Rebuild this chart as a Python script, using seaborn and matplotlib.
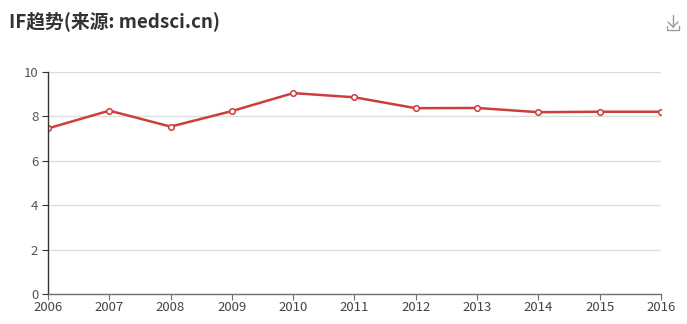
import matplotlib
matplotlib.use("Agg")
import matplotlib.pyplot as plt
from matplotlib.lines import Line2D
import pandas as pd
import seaborn as sns

# IF values
years = [2006, 2007, 2008, 2009, 2010, 2011, 2012, 2013, 2014, 2015, 2016]
impact_factor = [7.46, 8.26, 7.54, 8.24, 9.05, 8.86, 8.37, 8.38, 8.19, 8.21, 8.21]
y_ticks = [0, 2, 4, 6, 8, 10]

df = pd.DataFrame({"year": years, "IF": impact_factor})

sns.set_style("white")
plt.rcParams["font.family"] = ["Noto Sans CJK SC", "DejaVu Sans"]

fig = plt.figure(figsize=(6.87, 3.24), dpi=100)
ax = fig.add_axes([48 / 687, 30 / 324, 613 / 687, 222 / 324])

sns.lineplot(
    data=df, x="year", y="IF", ax=ax,
    color="#cc3e3a", linewidth=1.8,
    marker="o", markersize=4, markerfacecolor="white",
    markeredgecolor="#cc3e3a", markeredgewidth=1.1,
)

ax.set_xlim(years[0], years[-1])
ax.set_ylim(0, 10)
ax.set_xticks(years)
ax.set_yticks(y_ticks)
ax.set_xlabel("")
ax.set_ylabel("")
ax.grid(axis="y", color="#dddddd", linewidth=1)
ax.set_axisbelow(True)

for s in ["top", "right"]:
    ax.spines[s].set_visible(False)
ax.spines["left"].set_color("#333333")
ax.spines["bottom"].set_color("#6e7079")
ax.spines["left"].set_linewidth(1)
ax.spines["bottom"].set_linewidth(1)
ax.tick_params(axis="y", length=4, color="#333333", labelcolor="#555555",
               labelsize=9.5, pad=3, left=True)
ax.tick_params(axis="x", length=4, color="#6e7079", labelcolor="#444444",
               labelsize=9.5, pad=1, bottom=True)

fig.text(9 / 687, 1 - 21 / 324, "IF趋势(来源: medsci.cn)", fontsize=13.5,
         fontweight="bold", color="#333333", va="center", ha="left")

# download icon at top right
c = "#999999"
fig.add_artist(Line2D([673 / 687, 673 / 687], [1 - 15 / 324, 1 - 27 / 324], color=c, lw=1))
fig.add_artist(Line2D([668 / 687, 673 / 687, 678 / 687], [1 - 22 / 324, 1 - 27 / 324, 1 - 22 / 324], color=c, lw=1))
fig.add_artist(Line2D([667 / 687, 667 / 687, 679 / 687, 679 / 687],
                      [1 - 26 / 324, 1 - 30 / 324, 1 - 30 / 324, 1 - 26 / 324], color=c, lw=1))

fig.savefig("out.png", dpi=100)
